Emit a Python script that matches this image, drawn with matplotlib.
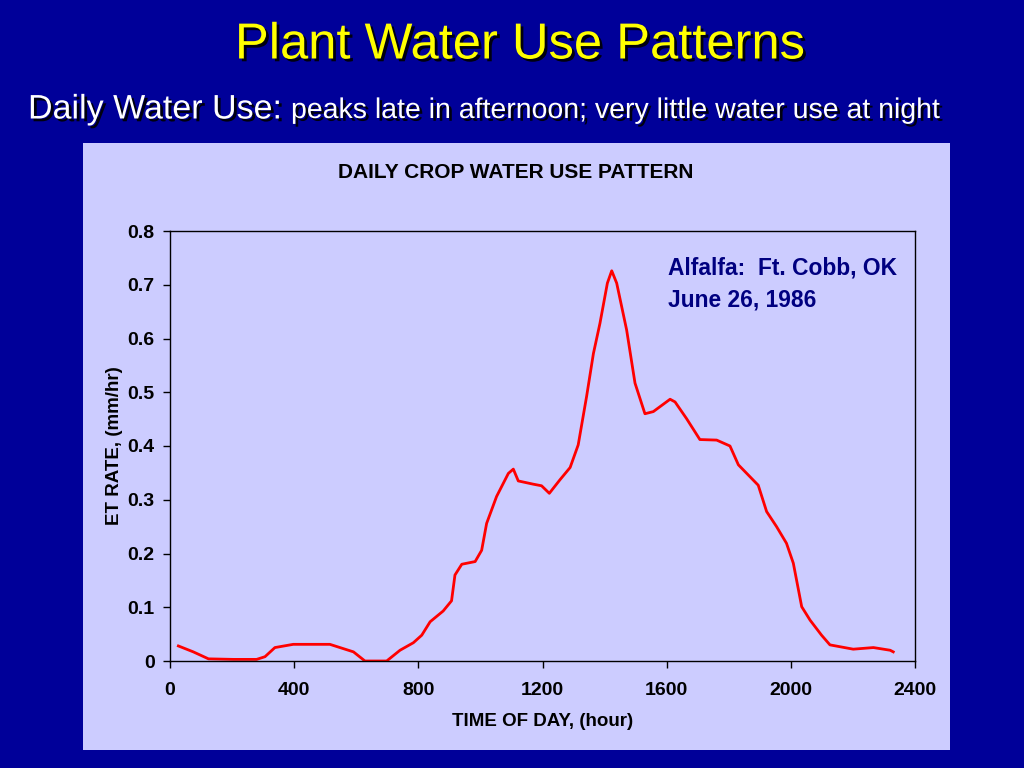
import matplotlib
matplotlib.use("Agg")
import matplotlib.pyplot as plt
import matplotlib.patheffects as pe
from matplotlib.patches import Rectangle

plt.rcParams["font.family"] = ["Liberation Sans", "DejaVu Sans"]

# datos
hora = [27, 75, 124, 204, 279, 306, 338, 397, 515, 591, 628, 698, 741, 784,
        811, 838, 880, 907, 918, 940, 983, 1004, 1020, 1052, 1090, 1106, 1122,
        1170, 1197, 1222, 1256, 1289, 1315, 1342, 1364, 1385, 1409, 1423, 1439,
        1471, 1498, 1530, 1557, 1611, 1627, 1664, 1707, 1761, 1804, 1831, 1895,
        1922, 1954, 1986, 2008, 2035, 2062, 2099, 2126, 2201, 2266, 2320, 2330]
et_rate = [0.028, 0.017, 0.004, 0.003, 0.003, 0.008, 0.025, 0.031, 0.031,
           0.017, 0.0, 0.0, 0.020, 0.034, 0.048, 0.073, 0.093, 0.112, 0.160,
           0.180, 0.185, 0.206, 0.256, 0.306, 0.349, 0.357, 0.335, 0.329,
           0.326, 0.312, 0.337, 0.360, 0.402, 0.492, 0.572, 0.628, 0.703,
           0.726, 0.703, 0.616, 0.517, 0.460, 0.464, 0.487, 0.482, 0.451,
           0.412, 0.411, 0.400, 0.365, 0.327, 0.278, 0.250, 0.219, 0.182,
           0.101, 0.076, 0.048, 0.030, 0.022, 0.025, 0.020, 0.017]
x_ticks = [0, 400, 800, 1200, 1600, 2000, 2400]
y_ticks = [0, 0.1, 0.2, 0.3, 0.4, 0.5, 0.6, 0.7, 0.8]
y_labels = ["0", "0.1", "0.2", "0.3", "0.4", "0.5", "0.6", "0.7", "0.8"]

fondo = "#000099"
panel = "#CCCCFF"
sombra = [pe.withSimplePatchShadow(offset=(2, -2), shadow_rgbFace="black", alpha=0.9)]

fig = plt.figure(figsize=(10.24, 7.68), dpi=100, facecolor=fondo)

# panel del grafico
fig.patches.append(Rectangle((83 / 1024, 1 - 750 / 768), 867 / 1024, 607 / 768,
                             transform=fig.transFigure, facecolor=panel,
                             edgecolor="none", zorder=-10))

fig.text(0.508, 1 - 45 / 768, "Plant Water Use Patterns", color="#FFFF00",
         fontsize=36.5, ha="center", va="center", path_effects=sombra)
fig.text(28 / 1024, 1 - 110 / 768, "Daily Water Use:", color="white",
         fontsize=24.5, ha="left", va="center", path_effects=sombra)
fig.text(291 / 1024, 1 - 111 / 768, "peaks late in afternoon; very little water use at night",
         color="white", fontsize=20.5, ha="left", va="center", path_effects=sombra)

ax = fig.add_axes([170 / 1024, 1 - 661 / 768, 745 / 1024, 430 / 768], zorder=5)
ax.set_facecolor(panel)
ax.plot(hora, et_rate, color="#FF0000", linewidth=2)

ax.set_xlim(0, 2400)
ax.set_ylim(0, 0.8)
ax.set_xticks(x_ticks)
ax.set_xticklabels([str(t) for t in x_ticks], fontsize=14, fontweight="bold")
ax.set_yticks(y_ticks)
ax.set_yticklabels(y_labels, fontsize=14, fontweight="bold")
ax.tick_params(direction="out", length=5, width=1, colors="black")
ax.tick_params(axis="x", pad=10)
ax.tick_params(axis="y", pad=6)
for s in ax.spines.values():
    s.set_linewidth(1)
    s.set_color("black")

ax.set_xlabel("TIME OF DAY, (hour)", fontsize=13.5, fontweight="bold", labelpad=10)
ax.set_ylabel("ET RATE, (mm/hr)", fontsize=13.5, fontweight="bold", labelpad=3)
fig.text(516 / 1024, 1 - 173 / 768, "DAILY CROP WATER USE PATTERN", fontsize=15,
         fontweight="bold", ha="center", va="center")

fig.text(668 / 1024, 1 - 268 / 768, "Alfalfa:  Ft. Cobb, OK", color="#000080",
         fontsize=16.4, fontweight="bold", ha="left", va="center", zorder=10)
fig.text(668 / 1024, 1 - 300 / 768, "June 26, 1986", color="#000080",
         fontsize=16.4, fontweight="bold", ha="left", va="center", zorder=10)

fig.savefig("out.png", dpi=100, facecolor=fondo)
